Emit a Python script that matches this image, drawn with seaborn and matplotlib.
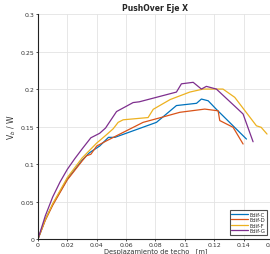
import pandas as pd
import seaborn as sns
import matplotlib
matplotlib.use('Agg')
import matplotlib.pyplot as plt

# curvas pushover (desplazamiento [m], Vb/W)
edif_c_x = [0, 0.005, 0.01, 0.02, 0.03, 0.035, 0.042, 0.048, 0.0524, 0.0807, 0.0943, 0.108, 0.1113, 0.1159, 0.1215, 0.142]
edif_c_y = [0, 0.026, 0.046, 0.080, 0.105, 0.115, 0.124, 0.1356, 0.1356, 0.1556, 0.178, 0.181, 0.1867, 0.1844, 0.173, 0.1333]

edif_d_x = [0, 0.005, 0.01, 0.02, 0.03, 0.033, 0.036, 0.04, 0.0467, 0.0716, 0.0818, 0.0966, 0.1136, 0.1227, 0.1238, 0.1329, 0.1397]
edif_d_y = [0, 0.025, 0.045, 0.079, 0.104, 0.111, 0.113, 0.124, 0.131, 0.1556, 0.161, 0.169, 0.1733, 0.171, 0.158, 0.149, 0.1267]

edif_f_x = [0, 0.005, 0.01, 0.02, 0.03, 0.04, 0.046, 0.0512, 0.0546, 0.058, 0.075, 0.0785, 0.09, 0.1034, 0.1125, 0.126, 0.134, 0.1488, 0.152, 0.156]
edif_f_y = [0, 0.026, 0.047, 0.082, 0.108, 0.128, 0.138, 0.147, 0.1556, 0.159, 0.162, 0.173, 0.186, 0.196, 0.2, 0.2, 0.189, 0.151, 0.149, 0.14]

edif_g_x = [0, 0.005, 0.01, 0.015, 0.02, 0.025, 0.03, 0.036, 0.042, 0.046, 0.0535, 0.0648, 0.069, 0.0943, 0.0977, 0.1057, 0.1113, 0.1147, 0.1215, 0.1363, 0.1397, 0.1465]
edif_g_y = [0, 0.031, 0.056, 0.076, 0.093, 0.107, 0.12, 0.135, 0.141, 0.148, 0.17, 0.182, 0.183, 0.196, 0.207, 0.209, 0.2, 0.2036, 0.2, 0.173, 0.1667, 0.1297]

nombres = ['Edif-C', 'Edif-D', 'Edif-F', 'Edif-G']
colores = ['#0072BD', '#D95319', '#EDB120', '#7E2F8E']
curvas = [(edif_c_x, edif_c_y), (edif_d_x, edif_d_y), (edif_f_x, edif_f_y), (edif_g_x, edif_g_y)]

sns.set_style('whitegrid')
plt.rcParams['font.family'] = ['DejaVu Sans']

fig = plt.figure(figsize=(2.7, 2.55), dpi=100)
ax = fig.add_axes([0.1407, 0.0588, 0.870, 0.882])

for nombre, color, (xs, ys) in zip(nombres, colores, curvas):
    df = pd.DataFrame({'d': xs, 'v': ys})
    sns.lineplot(data=df, x='d', y='v', sort=False, color=color, lw=0.9, label=nombre, ax=ax)

ax.set_xlim(0, 0.16)
ax.set_ylim(0, 0.3)
ax.set_xticks([0, 0.02, 0.04, 0.06, 0.08, 0.1, 0.12, 0.14, 0.16])
ax.set_xticklabels(['0', '0.02', '0.04', '0.06', '0.08', '0.1', '0.12', '0.14', '0.16'])
ax.set_yticks([0, 0.05, 0.1, 0.15, 0.2, 0.25, 0.3])
ax.set_yticklabels(['0', '0.05', '0.1', '0.15', '0.2', '0.25', '0.3'])
ax.tick_params(labelsize=4.5, length=1.5, width=0.6, pad=1, colors='#333333', left=True, bottom=True)
ax.grid(True, color='#e3e3e3', lw=0.6)

for s in ['top', 'right']:
    ax.spines[s].set_visible(False)
for s in ['left', 'bottom']:
    ax.spines[s].set_color('#222222')
    ax.spines[s].set_linewidth(0.8)

ax.set_xlabel('Desplazamiento de techo   [m]', fontsize=4.8, labelpad=0, color='#333333')
ax.set_ylabel(r'V$_b$ / W', fontsize=5.5, labelpad=2, color='#333333')
ax.set_title('PushOver Eje X', fontsize=5.5, fontweight='bold', pad=3)

leg = ax.legend(loc='lower right', fontsize=3.8, frameon=True, fancybox=False,
                handlelength=3.2, handletextpad=0.3, borderpad=0.25, labelspacing=0.1,
                bbox_to_anchor=(0.986, 0.008))
leg.get_frame().set_edgecolor('#222222')
leg.get_frame().set_linewidth(0.8)

fig.savefig('out.png', dpi=100)
